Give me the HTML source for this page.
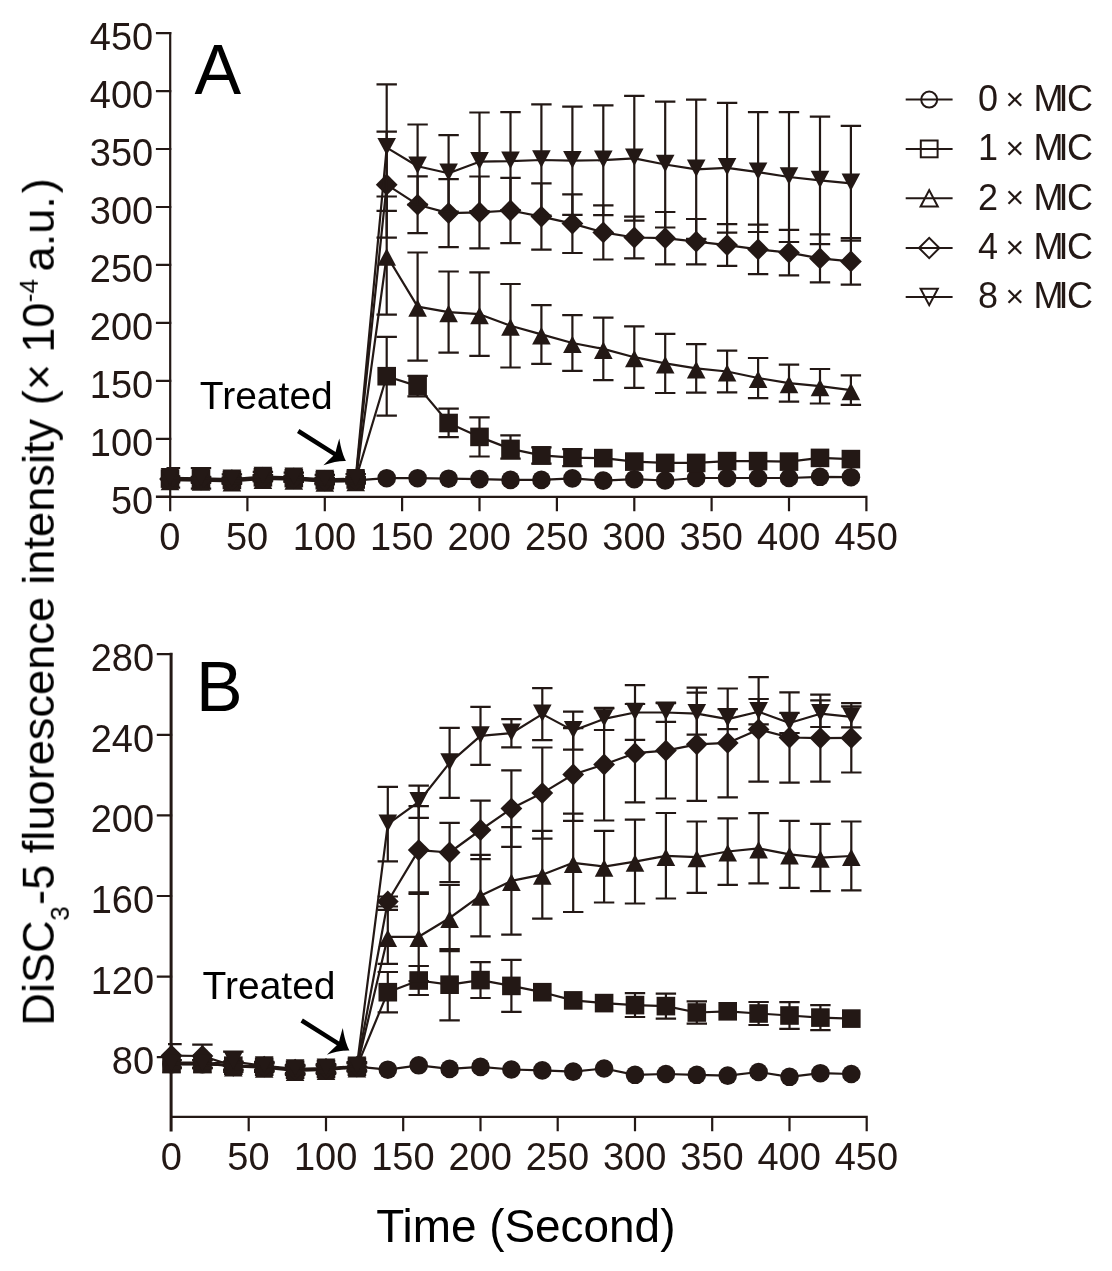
<!DOCTYPE html>
<html lang="en"><head><meta charset="utf-8"><title>DiSC3-5 fluorescence intensity</title><style>
html,body{margin:0;padding:0;background:#fff}
body{width:1112px;height:1271px;overflow:hidden}
svg{display:block}
text{font-family:"Liberation Sans",Arial,Helvetica,sans-serif;fill:#231815}
.tk{font-size:38px}
.pl{font-size:71px;fill:#000}
.tr{font-size:39px;fill:#000}
.lg{font-size:36px}
.at{font-size:45.5px;fill:#000}
.ss{font-size:26px}
</style></head><body>
<svg width="1112" height="1271" viewBox="0 0 1112 1271">
<rect width="1112" height="1271" fill="#fff"/>
<defs><filter id="soft" x="0" y="0" width="100%" height="100%" filterUnits="userSpaceOnUse" color-interpolation-filters="sRGB"><feGaussianBlur stdDeviation="0.55"/></filter></defs>
<g filter="url(#soft)">
<g id="panelA">
<path d="M157.0 496.9H866.4M247.4 496.9v13.2M324.8 496.9v13.2M402.1 496.9v13.2M479.5 496.9v13.2M556.9 496.9v13.2M634.3 496.9v13.2M711.6 496.9v13.2M789.0 496.9v13.2M866.4 496.9v13.2M157.0 496.7H170.2M157.0 438.8H170.2M157.0 380.8H170.2M157.0 322.9H170.2M157.0 264.9H170.2M157.0 207.0H170.2M157.0 149.0H170.2M157.0 91.1H170.2M157.0 33.1H170.2" fill="none" stroke="#231815" stroke-width="2.2" stroke-linecap="square"/>
<path d="M170.2 510.1V33.1" fill="none" stroke="#231815" stroke-width="2.2" stroke-linecap="square"/>
<text x="169.7" y="549.8" text-anchor="middle" class="tk">0</text>
<text x="247.1" y="549.8" text-anchor="middle" class="tk">50</text>
<text x="324.5" y="549.8" text-anchor="middle" class="tk">100</text>
<text x="401.8" y="549.8" text-anchor="middle" class="tk">150</text>
<text x="479.2" y="549.8" text-anchor="middle" class="tk">200</text>
<text x="556.6" y="549.8" text-anchor="middle" class="tk">250</text>
<text x="634.0" y="549.8" text-anchor="middle" class="tk">300</text>
<text x="711.3" y="549.8" text-anchor="middle" class="tk">350</text>
<text x="788.7" y="549.8" text-anchor="middle" class="tk">400</text>
<text x="866.1" y="549.8" text-anchor="middle" class="tk">450</text>
<text x="153.2" y="513.7" text-anchor="end" class="tk">50</text>
<text x="153.2" y="455.8" text-anchor="end" class="tk">100</text>
<text x="153.2" y="397.8" text-anchor="end" class="tk">150</text>
<text x="153.2" y="339.9" text-anchor="end" class="tk">200</text>
<text x="153.2" y="281.9" text-anchor="end" class="tk">250</text>
<text x="153.2" y="224.0" text-anchor="end" class="tk">300</text>
<text x="153.2" y="166.0" text-anchor="end" class="tk">350</text>
<text x="153.2" y="108.1" text-anchor="end" class="tk">400</text>
<text x="153.2" y="50.1" text-anchor="end" class="tk">450</text>
<polyline points="170.0,479.4 201.0,480.0 231.9,480.7 262.9,478.2 293.8,478.9 324.8,481.1 355.7,480.4 386.7,478.2 417.6,478.2 448.6,478.7 479.5,479.1 510.5,479.9 541.4,479.9 572.4,478.4 603.3,480.6 634.3,479.2 665.2,480.5 696.2,478.0 727.1,478.0 758.1,478.0 789.0,478.0 820.0,476.8 850.9,477.2" fill="none" stroke="#231815" stroke-width="2.2" stroke-linejoin="round"/>
<circle cx="170.0" cy="479.4" r="9.3" fill="#231815"/>
<circle cx="201.0" cy="480.0" r="9.3" fill="#231815"/>
<circle cx="231.9" cy="480.7" r="9.3" fill="#231815"/>
<circle cx="262.9" cy="478.2" r="9.3" fill="#231815"/>
<circle cx="293.8" cy="478.9" r="9.3" fill="#231815"/>
<circle cx="324.8" cy="481.1" r="9.3" fill="#231815"/>
<circle cx="355.7" cy="480.4" r="9.3" fill="#231815"/>
<circle cx="386.7" cy="478.2" r="9.3" fill="#231815"/>
<circle cx="417.6" cy="478.2" r="9.3" fill="#231815"/>
<circle cx="448.6" cy="478.7" r="9.3" fill="#231815"/>
<circle cx="479.5" cy="479.1" r="9.3" fill="#231815"/>
<circle cx="510.5" cy="479.9" r="9.3" fill="#231815"/>
<circle cx="541.4" cy="479.9" r="9.3" fill="#231815"/>
<circle cx="572.4" cy="478.4" r="9.3" fill="#231815"/>
<circle cx="603.3" cy="480.6" r="9.3" fill="#231815"/>
<circle cx="634.3" cy="479.2" r="9.3" fill="#231815"/>
<circle cx="665.2" cy="480.5" r="9.3" fill="#231815"/>
<circle cx="696.2" cy="478.0" r="9.3" fill="#231815"/>
<circle cx="727.1" cy="478.0" r="9.3" fill="#231815"/>
<circle cx="758.1" cy="478.0" r="9.3" fill="#231815"/>
<circle cx="789.0" cy="478.0" r="9.3" fill="#231815"/>
<circle cx="820.0" cy="476.8" r="9.3" fill="#231815"/>
<circle cx="850.9" cy="477.2" r="9.3" fill="#231815"/>
<path d="M170.0 476.3V480.9M166.5 476.3H180.2M166.5 480.9H180.2M201.0 476.9V481.5M190.8 476.9H211.2M190.8 481.5H211.2M231.9 477.6V482.2M221.7 477.6H242.1M221.7 482.2H242.1M262.9 475.0V479.7M252.7 475.0H273.1M252.7 479.7H273.1M293.8 475.8V480.4M283.6 475.8H304.0M283.6 480.4H304.0M324.8 477.9V482.6M314.6 477.9H335.0M314.6 482.6H335.0M355.7 477.2V481.9M345.5 477.2H365.9M345.5 481.9H365.9M386.7 336.8V415.6M376.5 336.8H396.9M376.5 415.6H396.9M417.6 375.9V396.3M407.4 375.9H427.8M407.4 396.3H427.8M448.6 408.7V437.2M438.4 408.7H458.8M438.4 437.2H458.8M479.5 417.3V456.5M469.3 417.3H489.7M469.3 456.5H489.7M510.5 435.3V458.7M500.3 435.3H520.7M500.3 458.7H520.7M541.4 447.3V463.6M531.2 447.3H551.6M531.2 463.6H551.6M572.4 449.1V466.2M562.2 449.1H582.6M562.2 466.2H582.6" fill="none" stroke="#231815" stroke-width="2.2"/>
<polyline points="170.0,478.6 201.0,479.2 231.9,479.9 262.9,477.3 293.8,478.1 324.8,480.2 355.7,479.5 386.7,376.2 417.6,386.1 448.6,423.0 479.5,436.9 510.5,448.9 541.4,455.4 572.4,457.6 603.3,458.1 634.3,461.6 665.2,462.9 696.2,462.9 727.1,461.1 758.1,461.1 789.0,461.6 820.0,457.9 850.9,459.1" fill="none" stroke="#231815" stroke-width="2.2" stroke-linejoin="round"/>
<rect x="160.7" y="469.3" width="18.6" height="18.6" fill="#231815"/>
<rect x="191.7" y="469.9" width="18.6" height="18.6" fill="#231815"/>
<rect x="222.6" y="470.6" width="18.6" height="18.6" fill="#231815"/>
<rect x="253.6" y="468.0" width="18.6" height="18.6" fill="#231815"/>
<rect x="284.5" y="468.8" width="18.6" height="18.6" fill="#231815"/>
<rect x="315.5" y="470.9" width="18.6" height="18.6" fill="#231815"/>
<rect x="346.4" y="470.2" width="18.6" height="18.6" fill="#231815"/>
<rect x="377.4" y="366.9" width="18.6" height="18.6" fill="#231815"/>
<rect x="408.3" y="376.8" width="18.6" height="18.6" fill="#231815"/>
<rect x="439.3" y="413.7" width="18.6" height="18.6" fill="#231815"/>
<rect x="470.2" y="427.6" width="18.6" height="18.6" fill="#231815"/>
<rect x="501.2" y="439.6" width="18.6" height="18.6" fill="#231815"/>
<rect x="532.1" y="446.1" width="18.6" height="18.6" fill="#231815"/>
<rect x="563.1" y="448.3" width="18.6" height="18.6" fill="#231815"/>
<rect x="594.0" y="448.8" width="18.6" height="18.6" fill="#231815"/>
<rect x="625.0" y="452.3" width="18.6" height="18.6" fill="#231815"/>
<rect x="655.9" y="453.6" width="18.6" height="18.6" fill="#231815"/>
<rect x="686.9" y="453.6" width="18.6" height="18.6" fill="#231815"/>
<rect x="717.8" y="451.8" width="18.6" height="18.6" fill="#231815"/>
<rect x="748.8" y="451.8" width="18.6" height="18.6" fill="#231815"/>
<rect x="779.7" y="452.3" width="18.6" height="18.6" fill="#231815"/>
<rect x="810.7" y="448.6" width="18.6" height="18.6" fill="#231815"/>
<rect x="841.6" y="449.8" width="18.6" height="18.6" fill="#231815"/>
<path d="M170.0 477.8V482.4M166.5 477.8H180.2M166.5 482.4H180.2M201.0 478.4V483.0M190.8 478.4H211.2M190.8 483.0H211.2M231.9 479.1V483.7M221.7 479.1H242.1M221.7 483.7H242.1M262.9 476.5V481.2M252.7 476.5H273.1M252.7 481.2H273.1M293.8 477.3V481.9M283.6 477.3H304.0M283.6 481.9H304.0M324.8 479.4V484.1M314.6 479.4H335.0M314.6 484.1H335.0M355.7 478.7V483.4M345.5 478.7H365.9M345.5 483.4H365.9M386.7 196.5V314.7M376.5 196.5H396.9M376.5 314.7H396.9M417.6 252.5V360.7M407.4 252.5H427.8M407.4 360.7H427.8M448.6 271.5V352.6M438.4 271.5H458.8M438.4 352.6H458.8M479.5 272.4V355.9M469.3 272.4H489.7M469.3 355.9H489.7M510.5 284.0V367.5M500.3 284.0H520.7M500.3 367.5H520.7M541.4 305.1V363.8M531.2 305.1H551.6M531.2 363.8H551.6M572.4 315.2V370.8M562.2 315.2H582.6M562.2 370.8H582.6M603.3 317.6V380.2M593.1 317.6H613.5M593.1 380.2H613.5M634.3 326.4V387.9M624.1 326.4H644.5M624.1 387.9H644.5M665.2 333.9V393.0M655.0 333.9H675.4M655.0 393.0H675.4M696.2 344.1V392.7M686.0 344.1H706.4M686.0 392.7H706.4M727.1 350.7V392.4M716.9 350.7H737.3M716.9 392.4H737.3M758.1 358.0V398.1M747.9 358.0H768.3M747.9 398.1H768.3M789.0 364.6V401.7M778.8 364.6H799.2M778.8 401.7H799.2M820.0 369.0V403.5M809.8 369.0H830.2M809.8 403.5H830.2M850.9 375.4V404.8M840.7 375.4H861.1M840.7 404.8H861.1" fill="none" stroke="#231815" stroke-width="2.2"/>
<polyline points="170.0,480.1 201.0,480.7 231.9,481.4 262.9,478.9 293.8,479.6 324.8,481.7 355.7,481.1 386.7,255.6 417.6,306.6 448.6,312.1 479.5,314.2 510.5,325.7 541.4,334.4 572.4,343.0 603.3,348.9 634.3,357.2 665.2,363.4 696.2,368.4 727.1,371.5 758.1,378.0 789.0,383.1 820.0,386.2 850.9,390.1" fill="none" stroke="#231815" stroke-width="2.2" stroke-linejoin="round"/>
<path d="M160.7 490.2L179.3 490.2L170.0 472.8Z" fill="#231815"/>
<path d="M191.7 490.8L210.3 490.8L201.0 473.4Z" fill="#231815"/>
<path d="M222.6 491.5L241.2 491.5L231.9 474.1Z" fill="#231815"/>
<path d="M253.6 489.0L272.2 489.0L262.9 471.6Z" fill="#231815"/>
<path d="M284.5 489.7L303.1 489.7L293.8 472.3Z" fill="#231815"/>
<path d="M315.5 491.8L334.1 491.8L324.8 474.4Z" fill="#231815"/>
<path d="M346.4 491.2L365.0 491.2L355.7 473.8Z" fill="#231815"/>
<path d="M377.4 265.7L396.0 265.7L386.7 248.3Z" fill="#231815"/>
<path d="M408.3 316.7L426.9 316.7L417.6 299.3Z" fill="#231815"/>
<path d="M439.3 322.2L457.9 322.2L448.6 304.8Z" fill="#231815"/>
<path d="M470.2 324.3L488.8 324.3L479.5 306.9Z" fill="#231815"/>
<path d="M501.2 335.8L519.8 335.8L510.5 318.4Z" fill="#231815"/>
<path d="M532.1 344.5L550.7 344.5L541.4 327.1Z" fill="#231815"/>
<path d="M563.1 353.1L581.7 353.1L572.4 335.7Z" fill="#231815"/>
<path d="M594.0 359.0L612.6 359.0L603.3 341.6Z" fill="#231815"/>
<path d="M625.0 367.3L643.6 367.3L634.3 349.9Z" fill="#231815"/>
<path d="M655.9 373.5L674.5 373.5L665.2 356.1Z" fill="#231815"/>
<path d="M686.9 378.5L705.5 378.5L696.2 361.1Z" fill="#231815"/>
<path d="M717.8 381.6L736.4 381.6L727.1 364.2Z" fill="#231815"/>
<path d="M748.8 388.1L767.4 388.1L758.1 370.7Z" fill="#231815"/>
<path d="M779.7 393.2L798.3 393.2L789.0 375.8Z" fill="#231815"/>
<path d="M810.7 396.3L829.3 396.3L820.0 378.9Z" fill="#231815"/>
<path d="M841.6 400.2L860.2 400.2L850.9 382.8Z" fill="#231815"/>
<path d="M170.0 476.6V481.3M166.5 476.6H180.2M166.5 481.3H180.2M201.0 477.2V481.9M190.8 477.2H211.2M190.8 481.9H211.2M231.9 477.9V482.6M221.7 477.9H242.1M221.7 482.6H242.1M262.9 475.4V480.0M252.7 475.4H273.1M252.7 480.0H273.1M293.8 476.1V480.8M283.6 476.1H304.0M283.6 480.8H304.0M324.8 478.3V482.9M314.6 478.3H335.0M314.6 482.9H335.0M355.7 477.6V482.2M345.5 477.6H365.9M345.5 482.2H365.9M386.7 131.7V237.7M376.5 131.7H396.9M376.5 237.7H396.9M417.6 176.4V233.1M407.4 176.4H427.8M407.4 233.1H427.8M448.6 179.1V247.1M438.4 179.1H458.8M438.4 247.1H458.8M479.5 176.5V248.3M469.3 176.5H489.7M469.3 248.3H489.7M510.5 177.9V243.2M500.3 177.9H520.7M500.3 243.2H520.7M541.4 183.4V249.7M531.2 183.4H551.6M531.2 249.7H551.6M572.4 194.3V253.0M562.2 194.3H582.6M562.2 253.0H582.6M603.3 205.4V259.5M593.1 205.4H613.5M593.1 259.5H613.5M634.3 216.7V258.4M624.1 216.7H644.5M624.1 258.4H644.5M665.2 212.0V264.4M655.0 212.0H675.4M655.0 264.4H675.4M696.2 219.0V264.4M686.0 219.0H706.4M686.0 264.4H706.4M727.1 224.2V265.9M716.9 224.2H737.3M716.9 265.9H737.3M758.1 224.7V274.1M747.9 224.7H768.3M747.9 274.1H768.3M789.0 229.9V275.3M778.8 229.9H799.2M778.8 275.3H799.2M820.0 234.4V282.4M809.8 234.4H830.2M809.8 282.4H830.2M850.9 238.2V284.6M840.7 238.2H861.1M840.7 284.6H861.1" fill="none" stroke="#231815" stroke-width="2.2"/>
<polyline points="170.0,479.0 201.0,479.5 231.9,480.2 262.9,477.7 293.8,478.4 324.8,480.6 355.7,479.9 386.7,184.7 417.6,204.7 448.6,213.1 479.5,212.4 510.5,210.5 541.4,216.6 572.4,223.6 603.3,232.4 634.3,237.5 665.2,238.2 696.2,241.7 727.1,245.1 758.1,249.4 789.0,252.6 820.0,258.4 850.9,261.4" fill="none" stroke="#231815" stroke-width="2.2" stroke-linejoin="round"/>
<path d="M159.1 479.0L170.0 468.1L180.9 479.0L170.0 489.9Z" fill="#231815"/>
<path d="M190.1 479.5L201.0 468.6L211.9 479.5L201.0 490.4Z" fill="#231815"/>
<path d="M221.0 480.2L231.9 469.3L242.8 480.2L231.9 491.1Z" fill="#231815"/>
<path d="M252.0 477.7L262.9 466.8L273.8 477.7L262.9 488.6Z" fill="#231815"/>
<path d="M282.9 478.4L293.8 467.5L304.7 478.4L293.8 489.3Z" fill="#231815"/>
<path d="M313.9 480.6L324.8 469.7L335.7 480.6L324.8 491.5Z" fill="#231815"/>
<path d="M344.8 479.9L355.7 469.0L366.6 479.9L355.7 490.8Z" fill="#231815"/>
<path d="M375.8 184.7L386.7 173.8L397.6 184.7L386.7 195.6Z" fill="#231815"/>
<path d="M406.7 204.7L417.6 193.8L428.5 204.7L417.6 215.6Z" fill="#231815"/>
<path d="M437.7 213.1L448.6 202.2L459.5 213.1L448.6 224.0Z" fill="#231815"/>
<path d="M468.6 212.4L479.5 201.5L490.4 212.4L479.5 223.3Z" fill="#231815"/>
<path d="M499.6 210.5L510.5 199.6L521.4 210.5L510.5 221.4Z" fill="#231815"/>
<path d="M530.5 216.6L541.4 205.7L552.3 216.6L541.4 227.5Z" fill="#231815"/>
<path d="M561.5 223.6L572.4 212.7L583.3 223.6L572.4 234.5Z" fill="#231815"/>
<path d="M592.4 232.4L603.3 221.5L614.2 232.4L603.3 243.3Z" fill="#231815"/>
<path d="M623.4 237.5L634.3 226.6L645.2 237.5L634.3 248.4Z" fill="#231815"/>
<path d="M654.3 238.2L665.2 227.3L676.1 238.2L665.2 249.1Z" fill="#231815"/>
<path d="M685.3 241.7L696.2 230.8L707.1 241.7L696.2 252.6Z" fill="#231815"/>
<path d="M716.2 245.1L727.1 234.2L738.0 245.1L727.1 256.0Z" fill="#231815"/>
<path d="M747.2 249.4L758.1 238.5L769.0 249.4L758.1 260.3Z" fill="#231815"/>
<path d="M778.1 252.6L789.0 241.7L799.9 252.6L789.0 263.5Z" fill="#231815"/>
<path d="M809.1 258.4L820.0 247.5L830.9 258.4L820.0 269.3Z" fill="#231815"/>
<path d="M840.0 261.4L850.9 250.5L861.8 261.4L850.9 272.3Z" fill="#231815"/>
<path d="M170.0 468.0V487.7M166.5 468.0H180.2M166.5 487.7H180.2M201.0 468.2V488.6M190.8 468.2H211.2M190.8 488.6H211.2M231.9 474.4V483.7M221.7 474.4H242.1M221.7 483.7H242.1M262.9 471.9V481.2M252.7 471.9H273.1M252.7 481.2H273.1M293.8 472.7V481.9M283.6 472.7H304.0M283.6 481.9H304.0M324.8 474.8V484.1M314.6 474.8H335.0M314.6 484.1H335.0M355.7 474.1V483.4M345.5 474.1H365.9M345.5 483.4H365.9M386.7 84.4V210.8M376.5 84.4H396.9M376.5 210.8H396.9M417.6 124.5V204.7M407.4 124.5H427.8M407.4 204.7H427.8M448.6 135.1V211.6M438.4 135.1H458.8M438.4 211.6H458.8M479.5 112.5V211.0M469.3 112.5H489.7M469.3 211.0H489.7M510.5 112.1V210.2M500.3 112.1H520.7M500.3 210.2H520.7M541.4 104.4V215.6M531.2 104.4H551.6M531.2 215.6H551.6M572.4 106.6V214.8M562.2 106.6H582.6M562.2 214.8H582.6M603.3 105.3V215.2M593.1 105.3H613.5M593.1 215.2H613.5M634.3 95.8V220.7M624.1 95.8H644.5M624.1 220.7H644.5M665.2 101.6V227.5M655.0 101.6H675.4M655.0 227.5H675.4M696.2 99.7V238.8M686.0 99.7H706.4M686.0 238.8H706.4M727.1 102.9V232.7M716.9 102.9H737.3M716.9 232.7H737.3M758.1 112.1V232.0M747.9 112.1H768.3M747.9 232.0H768.3M789.0 112.1V242.0M778.8 112.1H799.2M778.8 242.0H799.2M820.0 116.7V244.2M809.8 116.7H830.2M809.8 244.2H830.2M850.9 125.9V240.7M840.7 125.9H861.1M840.7 240.7H861.1" fill="none" stroke="#231815" stroke-width="2.2"/>
<polyline points="170.0,477.8 201.0,478.4 231.9,479.1 262.9,476.5 293.8,477.3 324.8,479.4 355.7,478.7 386.7,147.6 417.6,166.3 448.6,173.3 479.5,161.7 510.5,161.2 541.4,160.0 572.4,160.7 603.3,160.2 634.3,158.3 665.2,164.5 696.2,169.3 727.1,167.8 758.1,172.1 789.0,177.0 820.0,180.4 850.9,183.3" fill="none" stroke="#231815" stroke-width="2.2" stroke-linejoin="round"/>
<path d="M160.7 468.1L179.3 468.1L170.0 485.5Z" fill="#231815"/>
<path d="M191.7 468.7L210.3 468.7L201.0 486.1Z" fill="#231815"/>
<path d="M222.6 469.4L241.2 469.4L231.9 486.8Z" fill="#231815"/>
<path d="M253.6 466.8L272.2 466.8L262.9 484.2Z" fill="#231815"/>
<path d="M284.5 467.6L303.1 467.6L293.8 485.0Z" fill="#231815"/>
<path d="M315.5 469.7L334.1 469.7L324.8 487.1Z" fill="#231815"/>
<path d="M346.4 469.0L365.0 469.0L355.7 486.4Z" fill="#231815"/>
<path d="M377.4 137.9L396.0 137.9L386.7 155.3Z" fill="#231815"/>
<path d="M408.3 156.6L426.9 156.6L417.6 174.0Z" fill="#231815"/>
<path d="M439.3 163.6L457.9 163.6L448.6 181.0Z" fill="#231815"/>
<path d="M470.2 152.0L488.8 152.0L479.5 169.4Z" fill="#231815"/>
<path d="M501.2 151.5L519.8 151.5L510.5 168.9Z" fill="#231815"/>
<path d="M532.1 150.3L550.7 150.3L541.4 167.7Z" fill="#231815"/>
<path d="M563.1 151.0L581.7 151.0L572.4 168.4Z" fill="#231815"/>
<path d="M594.0 150.5L612.6 150.5L603.3 167.9Z" fill="#231815"/>
<path d="M625.0 148.6L643.6 148.6L634.3 166.0Z" fill="#231815"/>
<path d="M655.9 154.8L674.5 154.8L665.2 172.2Z" fill="#231815"/>
<path d="M686.9 159.6L705.5 159.6L696.2 177.0Z" fill="#231815"/>
<path d="M717.8 158.1L736.4 158.1L727.1 175.5Z" fill="#231815"/>
<path d="M748.8 162.4L767.4 162.4L758.1 179.8Z" fill="#231815"/>
<path d="M779.7 167.3L798.3 167.3L789.0 184.7Z" fill="#231815"/>
<path d="M810.7 170.7L829.3 170.7L820.0 188.1Z" fill="#231815"/>
<path d="M841.6 173.6L860.2 173.6L850.9 191.0Z" fill="#231815"/>
</g>
<g id="panelB">
<path d="M171.1 1116.9H866.7M248.7 1116.9v13.2M326.0 1116.9v13.2M403.2 1116.9v13.2M480.5 1116.9v13.2M557.7 1116.9v13.2M635.0 1116.9v13.2M712.2 1116.9v13.2M789.5 1116.9v13.2M866.7 1116.9v13.2M157.9 1057.2H171.1M157.9 976.6H171.1M157.9 896.0H171.1M157.9 815.4H171.1M157.9 734.8H171.1M157.9 654.2H171.1" fill="none" stroke="#231815" stroke-width="2.2" stroke-linecap="square"/>
<path d="M171.1 1130.1V654.2" fill="none" stroke="#231815" stroke-width="3.0" stroke-linecap="square"/>
<text x="171.2" y="1169.8" text-anchor="middle" class="tk">0</text>
<text x="248.4" y="1169.8" text-anchor="middle" class="tk">50</text>
<text x="325.7" y="1169.8" text-anchor="middle" class="tk">100</text>
<text x="402.9" y="1169.8" text-anchor="middle" class="tk">150</text>
<text x="480.2" y="1169.8" text-anchor="middle" class="tk">200</text>
<text x="557.4" y="1169.8" text-anchor="middle" class="tk">250</text>
<text x="634.7" y="1169.8" text-anchor="middle" class="tk">300</text>
<text x="711.9" y="1169.8" text-anchor="middle" class="tk">350</text>
<text x="789.2" y="1169.8" text-anchor="middle" class="tk">400</text>
<text x="866.4" y="1169.8" text-anchor="middle" class="tk">450</text>
<text x="154.1" y="1074.2" text-anchor="end" class="tk">80</text>
<text x="154.1" y="993.6" text-anchor="end" class="tk">120</text>
<text x="154.1" y="913.0" text-anchor="end" class="tk">160</text>
<text x="154.1" y="832.4" text-anchor="end" class="tk">200</text>
<text x="154.1" y="751.8" text-anchor="end" class="tk">240</text>
<text x="154.1" y="671.2" text-anchor="end" class="tk">280</text>
<polyline points="171.5,1064.1 202.4,1064.1 233.3,1065.7 264.2,1066.7 295.1,1069.7 326.0,1068.9 356.9,1066.7 387.8,1069.7 418.7,1065.3 449.6,1068.9 480.5,1066.9 511.4,1069.5 542.3,1070.4 573.2,1071.6 604.1,1068.5 635.0,1074.8 665.9,1074.0 696.8,1074.8 727.7,1075.6 758.6,1072.0 789.5,1076.8 820.4,1073.2 851.3,1074.0" fill="none" stroke="#231815" stroke-width="2.2" stroke-linejoin="round"/>
<circle cx="171.5" cy="1064.1" r="9.3" fill="#231815"/>
<circle cx="202.4" cy="1064.1" r="9.3" fill="#231815"/>
<circle cx="233.3" cy="1065.7" r="9.3" fill="#231815"/>
<circle cx="264.2" cy="1066.7" r="9.3" fill="#231815"/>
<circle cx="295.1" cy="1069.7" r="9.3" fill="#231815"/>
<circle cx="326.0" cy="1068.9" r="9.3" fill="#231815"/>
<circle cx="356.9" cy="1066.7" r="9.3" fill="#231815"/>
<circle cx="387.8" cy="1069.7" r="9.3" fill="#231815"/>
<circle cx="418.7" cy="1065.3" r="9.3" fill="#231815"/>
<circle cx="449.6" cy="1068.9" r="9.3" fill="#231815"/>
<circle cx="480.5" cy="1066.9" r="9.3" fill="#231815"/>
<circle cx="511.4" cy="1069.5" r="9.3" fill="#231815"/>
<circle cx="542.3" cy="1070.4" r="9.3" fill="#231815"/>
<circle cx="573.2" cy="1071.6" r="9.3" fill="#231815"/>
<circle cx="604.1" cy="1068.5" r="9.3" fill="#231815"/>
<circle cx="635.0" cy="1074.8" r="9.3" fill="#231815"/>
<circle cx="665.9" cy="1074.0" r="9.3" fill="#231815"/>
<circle cx="696.8" cy="1074.8" r="9.3" fill="#231815"/>
<circle cx="727.7" cy="1075.6" r="9.3" fill="#231815"/>
<circle cx="758.6" cy="1072.0" r="9.3" fill="#231815"/>
<circle cx="789.5" cy="1076.8" r="9.3" fill="#231815"/>
<circle cx="820.4" cy="1073.2" r="9.3" fill="#231815"/>
<circle cx="851.3" cy="1074.0" r="9.3" fill="#231815"/>
<path d="M171.5 1060.1V1068.1M168.0 1060.1H181.7M168.0 1068.1H181.7M202.4 1060.1V1068.1M192.2 1060.1H212.6M192.2 1068.1H212.6M233.3 1061.7V1069.7M223.1 1061.7H243.5M223.1 1069.7H243.5M264.2 1062.7V1070.8M254.0 1062.7H274.4M254.0 1070.8H274.4M295.1 1065.7V1073.8M284.9 1065.7H305.3M284.9 1073.8H305.3M326.0 1064.9V1073.0M315.8 1064.9H336.2M315.8 1073.0H336.2M356.9 1062.7V1070.8M346.7 1062.7H367.1M346.7 1070.8H367.1M387.8 972.0V1012.3M377.6 972.0H398.0M377.6 1012.3H398.0M418.7 966.0V995.0M408.5 966.0H428.9M408.5 995.0H428.9M449.6 949.0V1020.4M439.4 949.0H459.8M439.4 1020.4H459.8M480.5 962.1V998.0M470.3 962.1H490.7M470.3 998.0H490.7M511.4 959.9V1011.9M501.2 959.9H521.6M501.2 1011.9H521.6M635.0 993.2V1017.0M624.8 993.2H645.2M624.8 1017.0H645.2M665.9 993.6V1018.6M655.7 993.6H676.1M655.7 1018.6H676.1M696.8 1001.4V1023.6M686.6 1001.4H707.0M686.6 1023.6H707.0M758.6 1002.0V1025.0M748.4 1002.0H768.8M748.4 1025.0H768.8M789.5 1002.2V1028.8M779.3 1002.2H799.7M779.3 1028.8H799.7M820.4 1005.1V1030.1M810.2 1005.1H830.6M810.2 1030.1H830.6" fill="none" stroke="#231815" stroke-width="2.2"/>
<polyline points="171.5,1064.1 202.4,1064.1 233.3,1065.7 264.2,1066.7 295.1,1069.7 326.0,1068.9 356.9,1066.7 387.8,992.2 418.7,980.5 449.6,984.7 480.5,980.1 511.4,985.9 542.3,992.2 573.2,1000.4 604.1,1003.1 635.0,1005.1 665.9,1006.1 696.8,1012.5 727.7,1011.3 758.6,1013.5 789.5,1015.5 820.4,1017.6 851.3,1018.6" fill="none" stroke="#231815" stroke-width="2.2" stroke-linejoin="round"/>
<rect x="162.2" y="1054.8" width="18.6" height="18.6" fill="#231815"/>
<rect x="193.1" y="1054.8" width="18.6" height="18.6" fill="#231815"/>
<rect x="224.0" y="1056.4" width="18.6" height="18.6" fill="#231815"/>
<rect x="254.9" y="1057.4" width="18.6" height="18.6" fill="#231815"/>
<rect x="285.8" y="1060.4" width="18.6" height="18.6" fill="#231815"/>
<rect x="316.7" y="1059.6" width="18.6" height="18.6" fill="#231815"/>
<rect x="347.6" y="1057.4" width="18.6" height="18.6" fill="#231815"/>
<rect x="378.5" y="982.9" width="18.6" height="18.6" fill="#231815"/>
<rect x="409.4" y="971.2" width="18.6" height="18.6" fill="#231815"/>
<rect x="440.3" y="975.4" width="18.6" height="18.6" fill="#231815"/>
<rect x="471.2" y="970.8" width="18.6" height="18.6" fill="#231815"/>
<rect x="502.1" y="976.6" width="18.6" height="18.6" fill="#231815"/>
<rect x="533.0" y="982.9" width="18.6" height="18.6" fill="#231815"/>
<rect x="563.9" y="991.1" width="18.6" height="18.6" fill="#231815"/>
<rect x="594.8" y="993.8" width="18.6" height="18.6" fill="#231815"/>
<rect x="625.7" y="995.8" width="18.6" height="18.6" fill="#231815"/>
<rect x="656.6" y="996.8" width="18.6" height="18.6" fill="#231815"/>
<rect x="687.5" y="1003.2" width="18.6" height="18.6" fill="#231815"/>
<rect x="718.4" y="1002.0" width="18.6" height="18.6" fill="#231815"/>
<rect x="749.3" y="1004.2" width="18.6" height="18.6" fill="#231815"/>
<rect x="780.2" y="1006.2" width="18.6" height="18.6" fill="#231815"/>
<rect x="811.1" y="1008.3" width="18.6" height="18.6" fill="#231815"/>
<rect x="842.0" y="1009.3" width="18.6" height="18.6" fill="#231815"/>
<path d="M264.2 1063.7V1071.8M254.0 1063.7H274.4M254.0 1071.8H274.4M295.1 1066.7V1074.8M284.9 1066.7H305.3M284.9 1074.8H305.3M326.0 1065.9V1074.0M315.8 1065.9H336.2M315.8 1074.0H336.2M356.9 1063.5V1071.6M346.7 1063.5H367.1M346.7 1071.6H367.1M387.8 909.8V963.8M377.6 909.8H398.0M377.6 963.8H398.0M418.7 892.4V981.1M408.5 892.4H428.9M408.5 981.1H428.9M449.6 885.0V951.1M439.4 885.0H459.8M439.4 951.1H459.8M480.5 854.9V936.4M470.3 854.9H490.7M470.3 936.4H490.7M511.4 827.1V934.7M501.2 827.1H521.6M501.2 934.7H521.6M542.3 830.8V918.6M532.1 830.8H552.5M532.1 918.6H552.5M573.2 813.6V912.0M563.0 813.6H583.4M563.0 912.0H583.4M604.1 830.8V902.5M593.9 830.8H614.3M593.9 902.5H614.3M635.0 819.7V903.5M624.8 819.7H645.2M624.8 903.5H645.2M665.9 813.0V898.5M655.7 813.0H676.1M655.7 898.5H676.1M696.8 821.5V892.8M686.6 821.5H707.0M686.6 892.8H707.0M727.7 818.3V884.8M717.5 818.3H737.9M717.5 884.8H737.9M758.6 813.2V883.4M748.4 813.2H768.8M748.4 883.4H768.8M789.5 820.9V887.8M779.3 820.9H799.7M779.3 887.8H799.7M820.4 823.9V891.2M810.2 823.9H830.6M810.2 891.2H830.6M851.3 821.5V890.4M841.1 821.5H861.5M841.1 890.4H861.5" fill="none" stroke="#231815" stroke-width="2.2"/>
<polyline points="171.5,1062.7 202.4,1062.7 233.3,1066.3 264.2,1067.7 295.1,1070.8 326.0,1069.9 356.9,1067.5 387.8,936.8 418.7,936.8 449.6,918.0 480.5,895.7 511.4,880.9 542.3,874.7 573.2,862.8 604.1,866.6 635.0,861.6 665.9,855.8 696.8,857.2 727.7,851.5 758.6,848.3 789.5,854.3 820.4,857.6 851.3,856.0" fill="none" stroke="#231815" stroke-width="2.2" stroke-linejoin="round"/>
<path d="M162.2 1072.8L180.8 1072.8L171.5 1055.4Z" fill="#231815"/>
<path d="M193.1 1072.8L211.7 1072.8L202.4 1055.4Z" fill="#231815"/>
<path d="M224.0 1076.4L242.6 1076.4L233.3 1059.0Z" fill="#231815"/>
<path d="M254.9 1077.8L273.5 1077.8L264.2 1060.4Z" fill="#231815"/>
<path d="M285.8 1080.9L304.4 1080.9L295.1 1063.5Z" fill="#231815"/>
<path d="M316.7 1080.0L335.3 1080.0L326.0 1062.6Z" fill="#231815"/>
<path d="M347.6 1077.6L366.2 1077.6L356.9 1060.2Z" fill="#231815"/>
<path d="M378.5 946.9L397.1 946.9L387.8 929.5Z" fill="#231815"/>
<path d="M409.4 946.9L428.0 946.9L418.7 929.5Z" fill="#231815"/>
<path d="M440.3 928.1L458.9 928.1L449.6 910.7Z" fill="#231815"/>
<path d="M471.2 905.8L489.8 905.8L480.5 888.4Z" fill="#231815"/>
<path d="M502.1 891.0L520.7 891.0L511.4 873.6Z" fill="#231815"/>
<path d="M533.0 884.8L551.6 884.8L542.3 867.4Z" fill="#231815"/>
<path d="M563.9 872.9L582.5 872.9L573.2 855.5Z" fill="#231815"/>
<path d="M594.8 876.7L613.4 876.7L604.1 859.3Z" fill="#231815"/>
<path d="M625.7 871.7L644.3 871.7L635.0 854.3Z" fill="#231815"/>
<path d="M656.6 865.9L675.2 865.9L665.9 848.5Z" fill="#231815"/>
<path d="M687.5 867.3L706.1 867.3L696.8 849.9Z" fill="#231815"/>
<path d="M718.4 861.6L737.0 861.6L727.7 844.2Z" fill="#231815"/>
<path d="M749.3 858.4L767.9 858.4L758.6 841.0Z" fill="#231815"/>
<path d="M780.2 864.4L798.8 864.4L789.5 847.0Z" fill="#231815"/>
<path d="M811.1 867.7L829.7 867.7L820.4 850.3Z" fill="#231815"/>
<path d="M842.0 866.1L860.6 866.1L851.3 848.7Z" fill="#231815"/>
<path d="M171.5 1044.2V1067.1M168.0 1044.2H181.7M168.0 1067.1H181.7M202.4 1044.6V1067.5M192.2 1044.6H212.6M192.2 1067.5H212.6M233.3 1061.9V1069.9M223.1 1061.9H243.5M223.1 1069.9H243.5M264.2 1062.7V1070.8M254.0 1062.7H274.4M254.0 1070.8H274.4M295.1 1065.7V1073.8M284.9 1065.7H305.3M284.9 1073.8H305.3M326.0 1064.9V1073.0M315.8 1064.9H336.2M315.8 1073.0H336.2M356.9 1062.7V1070.8M346.7 1062.7H367.1M346.7 1070.8H367.1M387.8 896.5V906.5M377.6 896.5H398.0M377.6 906.5H398.0M418.7 806.2V894.0M408.5 806.2H428.9M408.5 894.0H428.9M449.6 822.9V882.2M439.4 822.9H459.8M439.4 882.2H459.8M480.5 800.7V859.2M470.3 800.7H490.7M470.3 859.2H490.7M511.4 770.3V846.9M501.2 770.3H521.6M501.2 846.9H521.6M542.3 747.5V838.6M532.1 747.5H552.5M532.1 838.6H552.5M573.2 728.2V820.9M563.0 728.2H583.4M563.0 820.9H583.4M604.1 708.5V820.5M593.9 708.5H614.3M593.9 820.5H614.3M635.0 704.0V802.4M624.8 704.0H645.2M624.8 802.4H645.2M665.9 702.6V798.5M655.7 702.6H676.1M655.7 798.5H676.1M696.8 687.7V800.9M686.6 687.7H707.0M686.6 800.9H707.0M727.7 688.5V797.3M717.5 688.5H737.9M717.5 797.3H737.9M758.6 677.2V781.6M748.4 677.2H768.8M748.4 781.6H768.8M789.5 692.3V782.6M779.3 692.3H799.7M779.3 782.6H799.7M820.4 694.6V781.6M810.2 694.6H830.6M810.2 781.6H830.6M851.3 703.2V772.5M841.1 703.2H861.5M841.1 772.5H861.5" fill="none" stroke="#231815" stroke-width="2.2"/>
<polyline points="171.5,1055.6 202.4,1056.0 233.3,1065.9 264.2,1066.7 295.1,1069.7 326.0,1068.9 356.9,1066.7 387.8,901.5 418.7,850.1 449.6,852.5 480.5,830.0 511.4,808.6 542.3,793.1 573.2,774.5 604.1,764.5 635.0,753.2 665.9,750.6 696.8,744.3 727.7,742.9 758.6,729.4 789.5,737.5 820.4,738.1 851.3,737.9" fill="none" stroke="#231815" stroke-width="2.2" stroke-linejoin="round"/>
<path d="M160.6 1055.6L171.5 1044.7L182.4 1055.6L171.5 1066.5Z" fill="#231815"/>
<path d="M191.5 1056.0L202.4 1045.1L213.3 1056.0L202.4 1066.9Z" fill="#231815"/>
<path d="M222.4 1065.9L233.3 1055.0L244.2 1065.9L233.3 1076.8Z" fill="#231815"/>
<path d="M253.3 1066.7L264.2 1055.8L275.1 1066.7L264.2 1077.6Z" fill="#231815"/>
<path d="M284.2 1069.7L295.1 1058.8L306.0 1069.7L295.1 1080.6Z" fill="#231815"/>
<path d="M315.1 1068.9L326.0 1058.0L336.9 1068.9L326.0 1079.8Z" fill="#231815"/>
<path d="M346.0 1066.7L356.9 1055.8L367.8 1066.7L356.9 1077.6Z" fill="#231815"/>
<path d="M376.9 901.5L387.8 890.6L398.7 901.5L387.8 912.4Z" fill="#231815"/>
<path d="M407.8 850.1L418.7 839.2L429.6 850.1L418.7 861.0Z" fill="#231815"/>
<path d="M438.7 852.5L449.6 841.6L460.5 852.5L449.6 863.4Z" fill="#231815"/>
<path d="M469.6 830.0L480.5 819.1L491.4 830.0L480.5 840.9Z" fill="#231815"/>
<path d="M500.5 808.6L511.4 797.7L522.3 808.6L511.4 819.5Z" fill="#231815"/>
<path d="M531.4 793.1L542.3 782.2L553.2 793.1L542.3 804.0Z" fill="#231815"/>
<path d="M562.3 774.5L573.2 763.6L584.1 774.5L573.2 785.4Z" fill="#231815"/>
<path d="M593.2 764.5L604.1 753.6L615.0 764.5L604.1 775.4Z" fill="#231815"/>
<path d="M624.1 753.2L635.0 742.3L645.9 753.2L635.0 764.1Z" fill="#231815"/>
<path d="M655.0 750.6L665.9 739.7L676.8 750.6L665.9 761.5Z" fill="#231815"/>
<path d="M685.9 744.3L696.8 733.4L707.7 744.3L696.8 755.2Z" fill="#231815"/>
<path d="M716.8 742.9L727.7 732.0L738.6 742.9L727.7 753.8Z" fill="#231815"/>
<path d="M747.7 729.4L758.6 718.5L769.5 729.4L758.6 740.3Z" fill="#231815"/>
<path d="M778.6 737.5L789.5 726.6L800.4 737.5L789.5 748.4Z" fill="#231815"/>
<path d="M809.5 738.1L820.4 727.2L831.3 738.1L820.4 749.0Z" fill="#231815"/>
<path d="M840.4 737.9L851.3 727.0L862.2 737.9L851.3 748.8Z" fill="#231815"/>
<path d="M171.5 1060.1V1068.1M168.0 1060.1H181.7M168.0 1068.1H181.7M202.4 1060.1V1068.1M192.2 1060.1H212.6M192.2 1068.1H212.6M233.3 1051.6V1071.8M223.1 1051.6H243.5M223.1 1071.8H243.5M264.2 1061.9V1069.9M254.0 1061.9H274.4M254.0 1069.9H274.4M295.1 1064.9V1073.0M284.9 1064.9H305.3M284.9 1073.0H305.3M326.0 1064.1V1072.2M315.8 1064.1H336.2M315.8 1072.2H336.2M356.9 1062.1V1070.2M346.7 1062.1H367.1M346.7 1070.2H367.1M387.8 786.8V861.4M377.6 786.8H398.0M377.6 861.4H398.0M418.7 785.6V817.9M408.5 785.6H428.9M408.5 817.9H428.9M449.6 727.8V797.9M439.4 727.8H459.8M439.4 797.9H459.8M480.5 706.8V764.9M470.3 706.8H490.7M470.3 764.9H490.7M511.4 719.1V747.3M501.2 719.1H521.6M501.2 747.3H521.6M542.3 688.1V740.1M532.1 688.1H552.5M532.1 740.1H552.5M573.2 711.7V749.6M563.0 711.7H583.4M563.0 749.6H583.4M604.1 707.9V730.0M593.9 707.9H614.3M593.9 730.0H614.3M635.0 685.1V739.9M624.8 685.1H645.2M624.8 739.9H645.2M665.9 703.2V721.8M655.7 703.2H676.1M655.7 721.8H676.1M696.8 692.7V734.7M686.6 692.7H707.0M686.6 734.7H707.0M727.7 709.1V729.2M717.5 709.1H737.9M717.5 729.2H737.9M758.6 699.0V724.4M748.4 699.0H768.8M748.4 724.4H768.8M789.5 712.9V733.0M779.3 712.9H799.7M779.3 733.0H799.7M820.4 700.4V727.0M810.2 700.4H830.6M810.2 727.0H830.6M851.3 706.4V727.4M841.1 706.4H861.5M841.1 727.4H861.5" fill="none" stroke="#231815" stroke-width="2.2"/>
<polyline points="171.5,1064.1 202.4,1064.1 233.3,1061.7 264.2,1065.9 295.1,1068.9 326.0,1068.1 356.9,1066.1 387.8,824.1 418.7,801.8 449.6,762.9 480.5,735.9 511.4,733.2 542.3,714.1 573.2,730.6 604.1,718.9 635.0,712.5 665.9,712.5 696.8,713.7 727.7,719.1 758.6,711.7 789.5,723.0 820.4,713.7 851.3,716.9" fill="none" stroke="#231815" stroke-width="2.2" stroke-linejoin="round"/>
<path d="M162.2 1054.4L180.8 1054.4L171.5 1071.8Z" fill="#231815"/>
<path d="M193.1 1054.4L211.7 1054.4L202.4 1071.8Z" fill="#231815"/>
<path d="M224.0 1052.0L242.6 1052.0L233.3 1069.4Z" fill="#231815"/>
<path d="M254.9 1056.2L273.5 1056.2L264.2 1073.6Z" fill="#231815"/>
<path d="M285.8 1059.2L304.4 1059.2L295.1 1076.6Z" fill="#231815"/>
<path d="M316.7 1058.4L335.3 1058.4L326.0 1075.8Z" fill="#231815"/>
<path d="M347.6 1056.4L366.2 1056.4L356.9 1073.8Z" fill="#231815"/>
<path d="M378.5 814.4L397.1 814.4L387.8 831.8Z" fill="#231815"/>
<path d="M409.4 792.1L428.0 792.1L418.7 809.5Z" fill="#231815"/>
<path d="M440.3 753.2L458.9 753.2L449.6 770.6Z" fill="#231815"/>
<path d="M471.2 726.2L489.8 726.2L480.5 743.6Z" fill="#231815"/>
<path d="M502.1 723.5L520.7 723.5L511.4 740.9Z" fill="#231815"/>
<path d="M533.0 704.4L551.6 704.4L542.3 721.8Z" fill="#231815"/>
<path d="M563.9 720.9L582.5 720.9L573.2 738.3Z" fill="#231815"/>
<path d="M594.8 709.2L613.4 709.2L604.1 726.6Z" fill="#231815"/>
<path d="M625.7 702.8L644.3 702.8L635.0 720.2Z" fill="#231815"/>
<path d="M656.6 702.8L675.2 702.8L665.9 720.2Z" fill="#231815"/>
<path d="M687.5 704.0L706.1 704.0L696.8 721.4Z" fill="#231815"/>
<path d="M718.4 709.4L737.0 709.4L727.7 726.8Z" fill="#231815"/>
<path d="M749.3 702.0L767.9 702.0L758.6 719.4Z" fill="#231815"/>
<path d="M780.2 713.3L798.8 713.3L789.5 730.7Z" fill="#231815"/>
<path d="M811.1 704.0L829.7 704.0L820.4 721.4Z" fill="#231815"/>
<path d="M842.0 707.2L860.6 707.2L851.3 724.6Z" fill="#231815"/>
</g>
<text class="pl" transform="translate(194.4 93.8) scale(0.985 1)">A</text>
<text class="pl" transform="translate(196.0 710.8) scale(0.985 1)">B</text>
<text x="199.8" y="408.5" class="tr">Treated</text>
<path d="M345.9 461.0Q341.5 452.9 339.3 438.6Q337.0 446.0 335.6 452.0L299.4 429.1L297.0 432.9L333.3 455.7Q328.9 459.8 323.4 465.3Q336.7 460.6 345.9 461.0Z" fill="#000"/>
<text x="202.6" y="999.2" class="tr">Treated</text>
<path d="M349.4 1050.5Q345.0 1042.4 342.8 1028.1Q340.5 1035.5 339.1 1041.5L302.9 1018.6L300.5 1022.4L336.8 1045.2Q332.4 1049.3 326.9 1054.8Q340.2 1050.1 349.4 1050.5Z" fill="#000"/>
<path d="M905.7 99.6H952.6" stroke="#231815" stroke-width="2" fill="none"/>
<circle cx="929.2" cy="99.6" r="8.0" fill="none" stroke="#231815" stroke-width="2.0"/>
<text y="110.8" class="lg"><tspan x="978">0 </tspan><tspan x="1005.4" dy="-1.3" font-size="32">× </tspan><tspan x="1033.4" dy="1.3">M</tspan><tspan dx="-4.9">I</tspan><tspan dx="-1.5">C</tspan></text>
<path d="M905.7 148.9H952.6" stroke="#231815" stroke-width="2" fill="none"/>
<rect x="920.8" y="140.5" width="16.8" height="16.8" fill="none" stroke="#231815" stroke-width="2.0"/>
<text y="160.1" class="lg"><tspan x="978">1 </tspan><tspan x="1005.4" dy="-1.3" font-size="32">× </tspan><tspan x="1033.4" dy="1.3">M</tspan><tspan dx="-4.9">I</tspan><tspan dx="-1.5">C</tspan></text>
<path d="M905.7 198.3H952.6" stroke="#231815" stroke-width="2" fill="none"/>
<path d="M920.6 206.5L937.8 206.5L929.2 190.1Z" fill="none" stroke="#231815" stroke-width="2.0"/>
<text y="209.5" class="lg"><tspan x="978">2 </tspan><tspan x="1005.4" dy="-1.3" font-size="32">× </tspan><tspan x="1033.4" dy="1.3">M</tspan><tspan dx="-4.9">I</tspan><tspan dx="-1.5">C</tspan></text>
<path d="M905.7 248.0H952.6" stroke="#231815" stroke-width="2" fill="none"/>
<path d="M919.0 248.0L929.2 237.8L939.4 248.0L929.2 258.2Z" fill="none" stroke="#231815" stroke-width="2.0"/>
<text y="259.2" class="lg"><tspan x="978">4 </tspan><tspan x="1005.4" dy="-1.3" font-size="32">× </tspan><tspan x="1033.4" dy="1.3">M</tspan><tspan dx="-4.9">I</tspan><tspan dx="-1.5">C</tspan></text>
<path d="M905.7 297.0H952.6" stroke="#231815" stroke-width="2" fill="none"/>
<path d="M920.6 288.8L937.8 288.8L929.2 305.2Z" fill="none" stroke="#231815" stroke-width="2.0"/>
<text y="308.2" class="lg"><tspan x="978">8 </tspan><tspan x="1005.4" dy="-1.3" font-size="32">× </tspan><tspan x="1033.4" dy="1.3">M</tspan><tspan dx="-4.9">I</tspan><tspan dx="-1.5">C</tspan></text>
<text x="376.2" y="1242" class="at" style="font-size:45.9px">Time (Second)</text>
<g transform="translate(53.8 1025.5) rotate(-90)"><text class="at" style="font-size:45.2px" x="0" y="0"><tspan x="-0.2">DiSC</tspan><tspan x="104.7" dy="14.5" class="ss">3</tspan><tspan x="120.6" dy="-14.5">-5 </tspan><tspan x="172.3">fluorescence </tspan><tspan x="440.8">intensity </tspan><tspan x="620.2">(× </tspan><tspan x="672.7">10</tspan><tspan x="723.3" dy="-16" class="ss">-4 </tspan><tspan x="754.0" dy="16">a.u.</tspan><tspan x="832.2">)</tspan></text></g>
</g>
</svg>
</body></html>
